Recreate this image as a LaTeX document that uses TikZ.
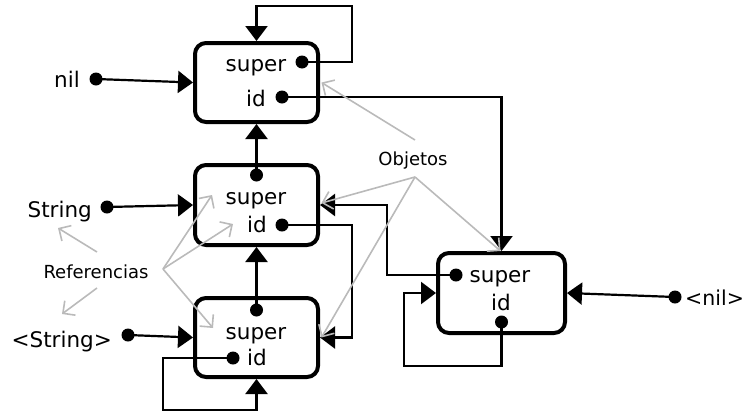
\documentclass[tikz,border=0pt]{standalone}
\usepackage{fontspec}
\setmainfont{DejaVu Sans}
\usetikzlibrary{arrows.meta,calc}
\begin{document}
\begin{tikzpicture}[x=1pt,y=-1pt,
  obj/.style={draw,line width=4pt,rounded corners=11pt,minimum width=123pt,minimum height=79pt,inner sep=0pt},
  dot/.style={circle,fill,inner sep=0pt,minimum size=13pt},
  lbl/.style={font=\fontsize{21.5}{22}\selectfont,inner sep=0pt,text=black},
  note/.style={font=\fontsize{18}{18}\selectfont,inner sep=0pt,text=black},
  conn/.style={line width=2.2pt,-{Triangle[length=15pt,width=22pt]}},
  hint/.style={draw=black!27,line width=1.6pt,-{Straight Barb[length=9pt,width=18pt]}}]
\useasboundingbox (0,0) rectangle (746,410);
% boxes
\node[obj] (b1) at (256.5,82.5) {};
\node[obj,minimum height=80pt] (b2) at (256.5,205) {};
\node[obj] (b3) at (256.5,337.5) {};
\node[obj,minimum width=127pt,minimum height=80pt] (b4) at (501.5,293) {};
% box texts
\node[lbl,anchor=base] (s1) at (256,71) {super};
\node[lbl,anchor=base] (i1) at (256,106) {id};
\node[lbl,anchor=base] (s2) at (256,204) {super};
\node[lbl,anchor=base] (i2) at (257,232) {id};
\node[lbl,anchor=base] (s3) at (256,339) {super};
\node[lbl,anchor=base] (i3) at (257,365) {id};
\node[lbl,anchor=base] (s4) at (500,282) {super};
\node[lbl,anchor=base] (i4) at (501,310) {id};
% outer labels
\node[lbl,anchor=base east] (tnil) at (80,87) {nil};
\node[lbl,anchor=base east] (tstr) at (92,217) {String};
\node[lbl,anchor=base east] (tstr2) at (112,347) {<String>};
\node[lbl,anchor=base west,font=\fontsize{20.5}{21}\selectfont] (tnil2) at (685,305) {<nil>};
\node[note,anchor=base] (tref) at (96,278) {Referencias};
\node[note,anchor=base] (tobj) at (413,165) {Objetos};
% dots
\node[dot] (d1s) at (302,62) {};
\node[dot] (d1i) at (282,97) {};
\node[dot] (d2t) at (256.5,175) {};
\node[dot] (d2i) at (282,225) {};
\node[dot] (d3t) at (256.5,310) {};
\node[dot] (d3i) at (233,358) {};
\node[dot] (d4s) at (456,275) {};
\node[dot] (d4i) at (501.5,322) {};
\node[dot] (dnil) at (96,79) {};
\node[dot] (dstr) at (107,207) {};
\node[dot] (dstr2) at (128,335) {};
\node[dot] (dnil2) at (675,297) {};
% black connectors
\draw[conn] (d1s.center) -- ++(50,0) |- ($(b1.north)+(0,-35)$) -- (b1.north);
\draw[conn] (d1i.center) -| (b4.north);
\draw[conn] (d2t.center) -- (b1.south);
\draw[conn] (d2i.center) -- ++(70,0) |- (b3.east);
\draw[conn] (d3t.center) -- (b2.south);
\draw[conn] (d3i.center) -- ++(-70,0) |- ($(b3.south)+(0,31)$) -- (b3.south);
\draw[conn] (dnil.center) -- (b1.west);
\draw[conn] (dstr.center) -- (b2.west);
\draw[conn] (dstr2.center) -- (b3.west);
\draw[conn] (d4s.center) -- ++(-69,0) |- (b2.east);
\draw[conn] (d4i.center) |- ($(b4.west)+(-32,73)$) |- (b4.west);
\draw[conn] (dnil2.center) -- (b4.east);
% grey hint arrows
\coordinate (ot) at (415,140);
\coordinate (ob) at (415,177);
\coordinate (ru) at (97,252);
\coordinate (rd) at (97,288);
\coordinate (rr) at (163,269);
\coordinate (ruend) at (58,228);
\coordinate (rdend) at (62,314);
\coordinate (rs2) at (212,195);
\coordinate (ri2) at (233,224);
\coordinate (rs3) at (213,328);
\draw[hint] (ot) -- ($(b1.east)+(1.5,0)$);
\draw[hint] (ob) -- ($(b2.east)+(1.5,-2)$);
\draw[hint] (ob) -- ($(b3.east)+(1.5,0)$);
\draw[hint] (ob) -- ($(b4.north)+(-1,0)$);
\draw[hint] (ru) -- (ruend);
\draw[hint] (rd) -- (rdend);
\draw[hint] (rr) -- (rs2);
\draw[hint] (rr) -- (ri2);
\draw[hint] (rr) -- (rs3);
\end{tikzpicture}
\end{document}
